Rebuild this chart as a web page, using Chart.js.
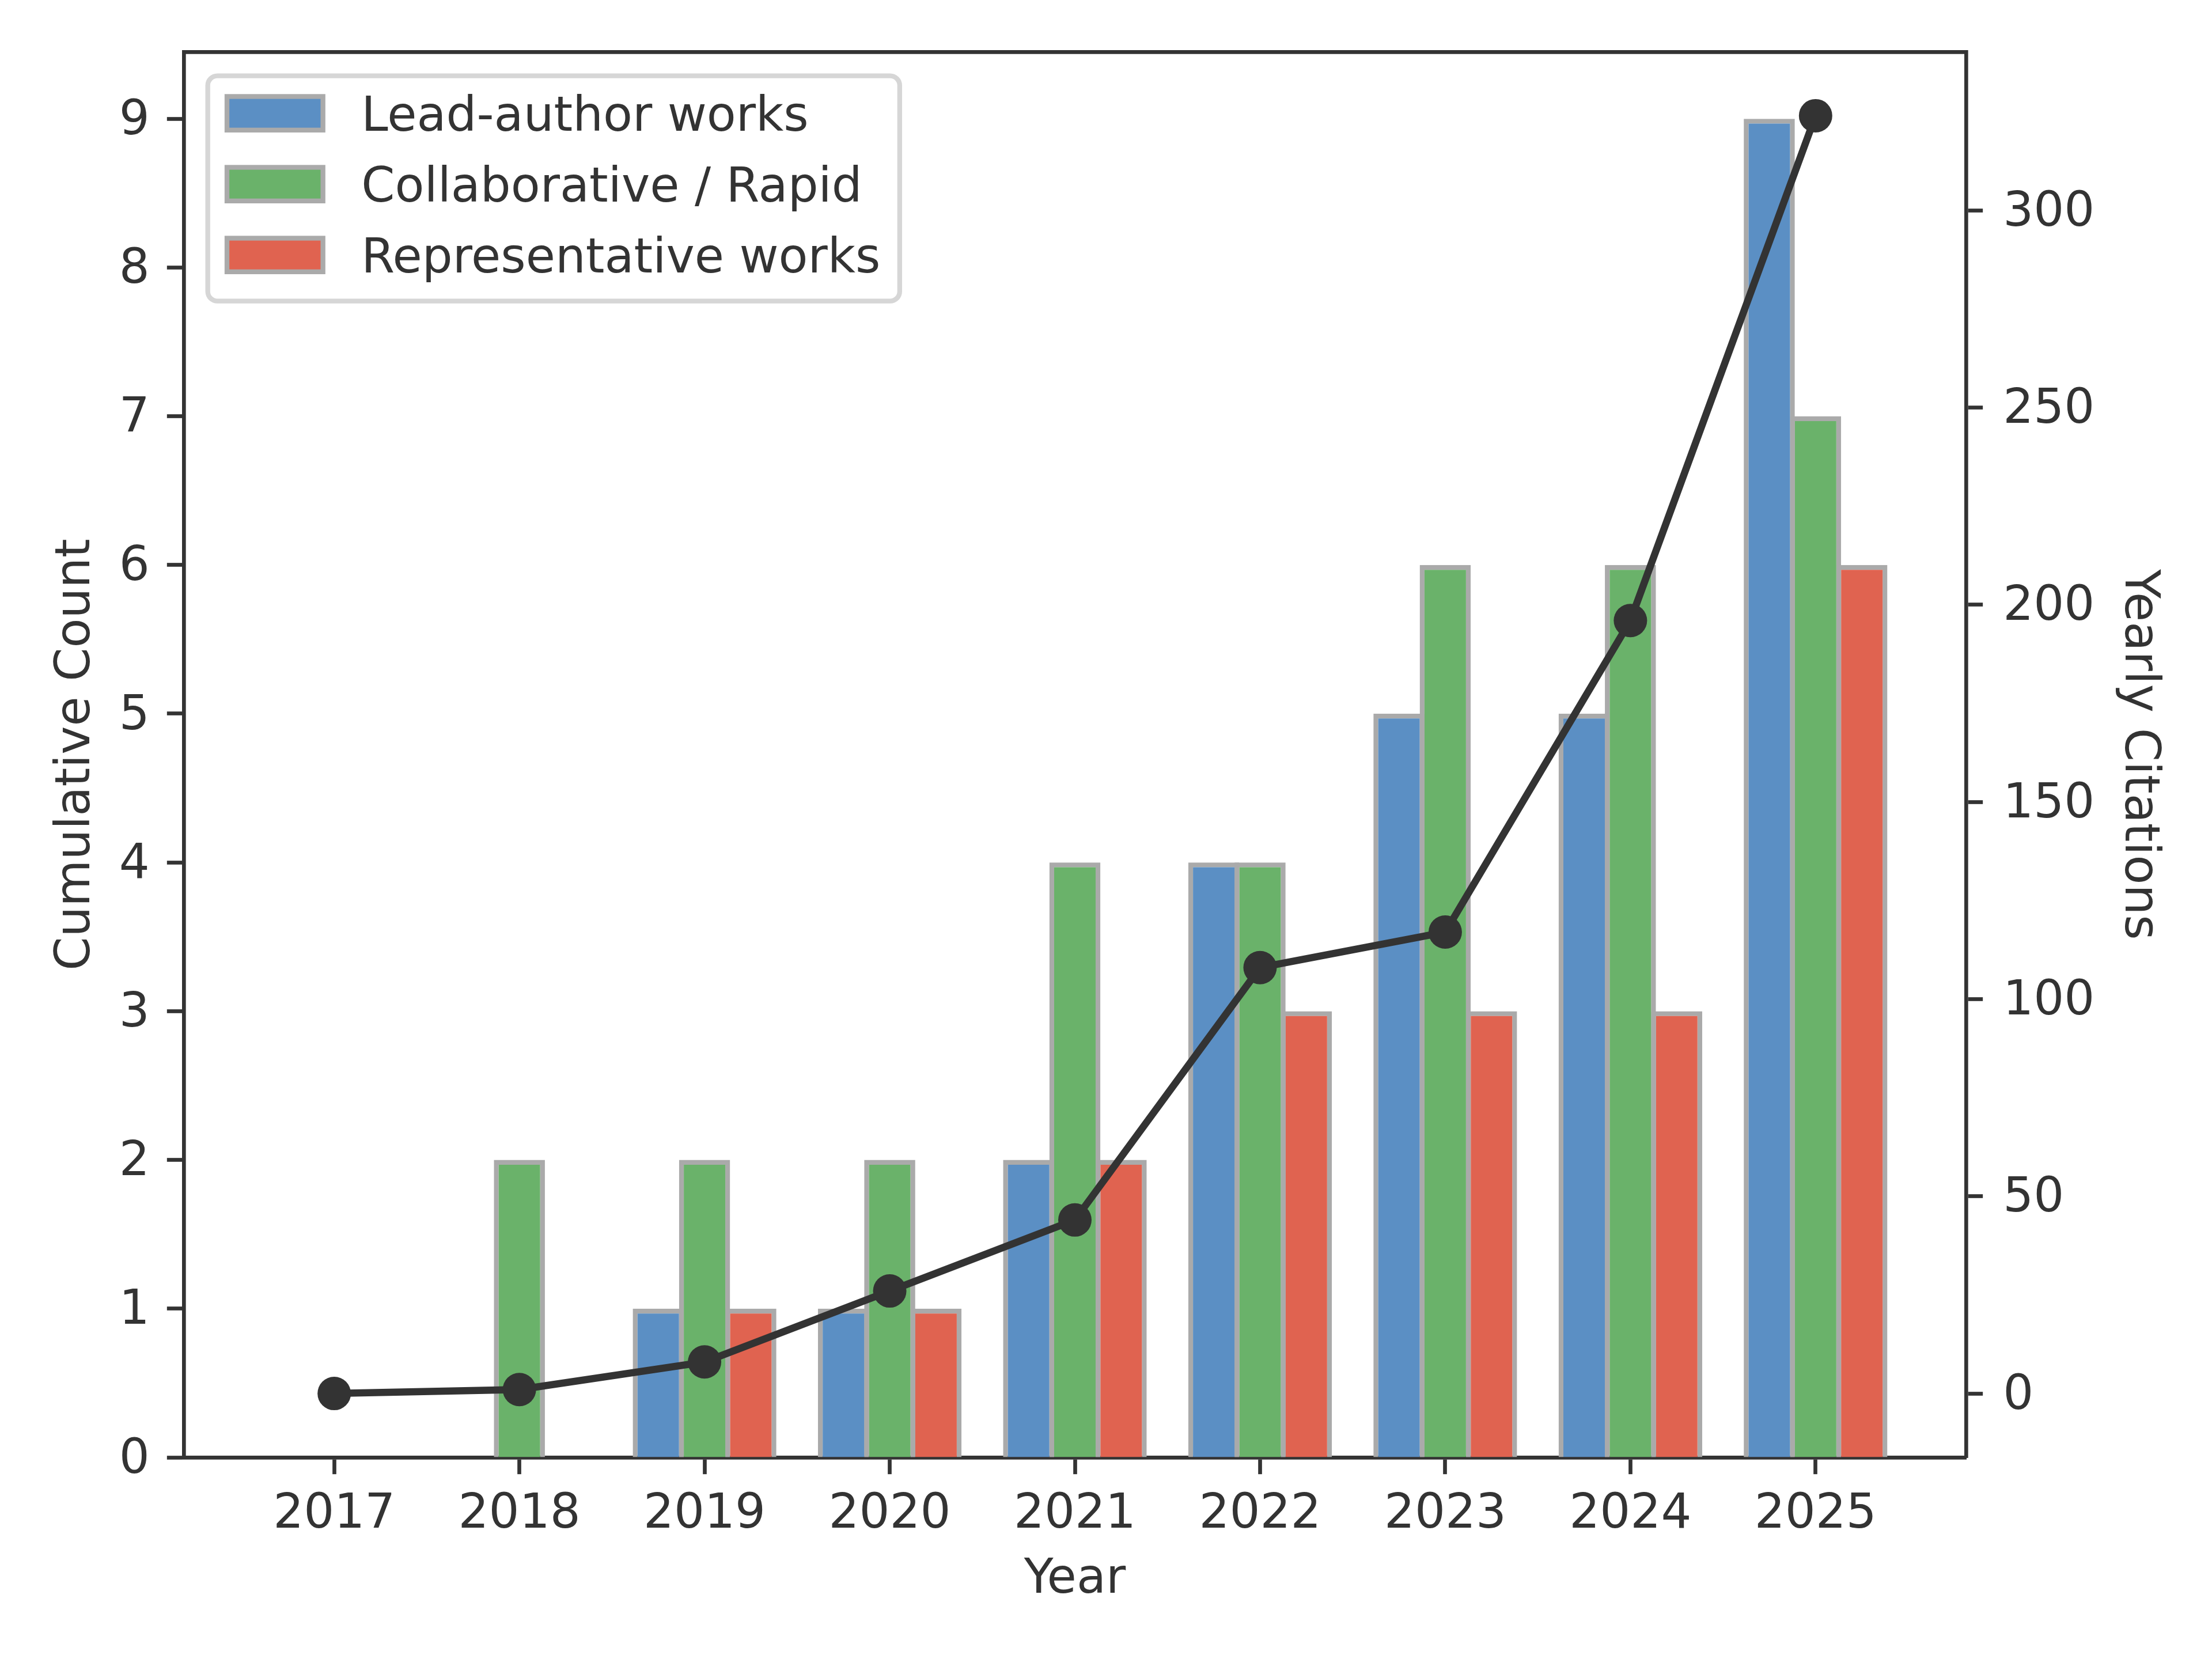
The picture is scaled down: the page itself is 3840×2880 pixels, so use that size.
<!DOCTYPE html>
<html>
<head>
<meta charset="utf-8">
<script src="https://cdn.jsdelivr.net/npm/chart.js@4.4.1/dist/chart.umd.min.js"></script>
<style>
  html, body { margin: 0; padding: 0; background: #ffffff; }
  #citeChart { display: block; }
</style>
</head>
<body>
<canvas id="citeChart" width="3840" height="2880"></canvas>
<script>
// chart data
const years = ['2017', '2018', '2019', '2020', '2021', '2022', '2023', '2024', '2025'];
const leadAuthor = [0, 0, 1, 1, 2, 4, 5, 5, 9];
const collaborative = [0, 2, 2, 2, 4, 4, 6, 6, 7];
const representative = [0, 0, 1, 1, 2, 3, 3, 3, 6];
const yearlyCitations = [0, 1, 8, 26, 44, 108, 117, 196, 324];
const countTicks = [0, 1, 2, 3, 4, 5, 6, 7, 8, 9];
const citationTicks = [0, 50, 100, 150, 200, 250, 300];
const seriesLabels = ['Lead-author works', 'Collaborative / Rapid', 'Representative works'];

// sizes (figure is 600 dpi, so 1pt = 8.33px)
const PT = 600 / 72;
const FS = 10 * PT;
const TEXT = '#333333';
const EDGE = '#aaaaaa';

// axis limits with 5% margins like matplotlib autoscale
const barHalf = 0.375;
const xSpan = (years.length - 1) + 2 * barHalf;
const xMin = -barHalf - 0.05 * xSpan;
const xMax = (years.length - 1) + barHalf + 0.05 * xSpan;
const countMax = Math.max(...leadAuthor, ...collaborative, ...representative) * 1.05;
const citeLo = Math.min(...yearlyCitations);
const citeHi = Math.max(...yearlyCitations);
const citeSpan = citeHi - citeLo;

function points(values) {
    return values.map((v, i) => ({ x: i, y: v }));
}

function barSet(label, values, color) {
    return {
        type: 'bar',
        label: label,
        data: points(values),
        backgroundColor: color,
        borderColor: EDGE,
        borderWidth: PT,
        borderSkipped: 'start',
        categoryPercentage: 0.75,
        barPercentage: 1.103,
        xAxisID: 'x',
        yAxisID: 'y',
        order: 1
    };
}

// legend drawn in the matplotlib way: rounded frame in upper left of the axes
const frameLegend = {
    id: 'frameLegend',
    afterDraw(chart) {
        const ctx = chart.ctx;
        const area = chart.chartArea;
        const bars = chart.data.datasets.filter(d => d.type === 'bar');
        ctx.save();
        ctx.font = FS + "px 'DejaVu Sans'";
        const textW = Math.max(...bars.map(d => ctx.measureText(d.label).width));
        const pad = 0.4 * FS;
        const handleW = 2 * FS;
        const handleH = 0.7 * FS;
        const rowH = 123;
        const left = area.left + 0.5 * FS;
        const top = area.top + 0.5 * FS;
        const w = pad + handleW + 0.8 * FS + textW + pad;
        const h = 391;

        ctx.beginPath();
        ctx.roundRect(left, top, w, h, 0.2 * FS);
        ctx.fillStyle = 'rgba(255,255,255,0.8)';
        ctx.fill();
        ctx.lineWidth = PT;
        ctx.strokeStyle = '#d6d6d6';
        ctx.stroke();

        bars.forEach((d, i) => {
            const cy = top + 65 + i * rowH;
            ctx.fillStyle = d.backgroundColor;
            ctx.fillRect(left + pad, cy - handleH / 2, handleW, handleH);
            ctx.lineWidth = PT;
            ctx.strokeStyle = EDGE;
            ctx.strokeRect(left + pad, cy - handleH / 2, handleW, handleH);
            ctx.fillStyle = TEXT;
            ctx.textBaseline = 'middle';
            ctx.textAlign = 'left';
            ctx.fillText(d.label, left + pad + handleW + 0.8 * FS, cy + 9);
        });
        ctx.restore();
    }
};

document.addEventListener('DOMContentLoaded', () => {

    Chart.defaults.font.family = "'DejaVu Sans'";
    Chart.defaults.font.size = FS;
    Chart.defaults.color = TEXT;

    const ctx = document.getElementById('citeChart').getContext('2d');

    new Chart(ctx, {
        data: {
            datasets: [
                barSet(seriesLabels[0], leadAuthor, '#5b8fc4'),
                barSet(seriesLabels[1], collaborative, '#6ab26a'),
                barSet(seriesLabels[2], representative, '#e06350'),
                {
                    type: 'line',
                    label: 'Yearly Citations',
                    data: points(yearlyCitations),
                    xAxisID: 'x',
                    yAxisID: 'y1',
                    borderColor: TEXT,
                    borderWidth: 1.5 * PT,
                    pointRadius: 29,
                    pointBackgroundColor: TEXT,
                    pointBorderWidth: 0,
                    tension: 0,
                    order: 0
                }
            ]
        },
        options: {
            responsive: false,
            animation: false,
            devicePixelRatio: 1,
            layout: { padding: 0 },
            plugins: {
                legend: { display: false },
                tooltip: { enabled: false }
            },
            scales: {
                x: {
                    type: 'linear',
                    position: 'bottom',
                    offset: false,
                    min: xMin,
                    max: xMax,
                    afterBuildTicks: axis => { axis.ticks = years.map((y, i) => ({ value: i })); },
                    afterFit: axis => { axis.height = 350; },
                    ticks: {
                        callback: v => years[Math.round(v)],
                        autoSkip: false,
                        maxRotation: 0,
                        padding: 21,
                        color: TEXT
                    },
                    grid: { display: true, offset: false, drawOnChartArea: false, tickLength: 3.5 * PT, tickWidth: 0.8 * PT, tickColor: TEXT },
                    border: { display: true, color: TEXT, width: 0.8 * PT },
                    title: { display: true, text: 'Year', color: TEXT, padding: 87 }
                },
                xTop: {
                    type: 'linear',
                    position: 'top',
                    offset: false,
                    min: xMin,
                    max: xMax,
                    afterFit: axis => { axis.height = 90; },
                    ticks: { display: false },
                    grid: { display: false },
                    border: { display: true, color: TEXT, width: 0.8 * PT }
                },
                y: {
                    type: 'linear',
                    position: 'left',
                    min: 0,
                    max: countMax,
                    afterBuildTicks: axis => { axis.ticks = countTicks.map(v => ({ value: v })); },
                    afterFit: axis => { axis.width = 319; },
                    ticks: { padding: 30, labelOffset: 5, color: TEXT },
                    grid: { display: true, drawOnChartArea: false, tickLength: 3.5 * PT, tickWidth: 0.8 * PT, tickColor: TEXT },
                    border: { display: true, color: TEXT, width: 0.8 * PT },
                    title: { display: true, text: 'Cumulative Count', color: TEXT, padding: 83 }
                },
                y1: {
                    type: 'linear',
                    position: 'right',
                    min: citeLo - 0.05 * citeSpan,
                    max: citeHi + 0.05 * citeSpan,
                    afterBuildTicks: axis => { axis.ticks = citationTicks.map(v => ({ value: v })); },
                    afterFit: axis => { axis.width = 427; },
                    ticks: { padding: 35, labelOffset: 5, color: TEXT },
                    grid: { display: true, drawOnChartArea: false, tickLength: 3.5 * PT, tickWidth: 0.8 * PT, tickColor: TEXT },
                    border: { display: true, color: TEXT, width: 0.8 * PT },
                    title: { display: true, text: 'Yearly Citations', color: TEXT, padding: 78 }
                }
            }
        },
        plugins: [frameLegend]
    });
});
</script>
</body>
</html>
